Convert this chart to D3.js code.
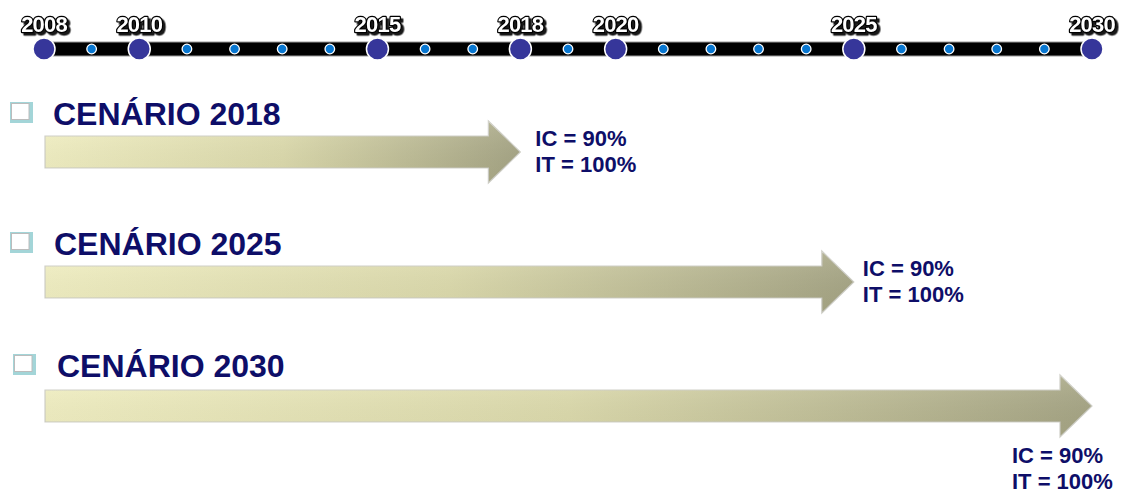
<!DOCTYPE html>
<html>
<head>
<meta charset="utf-8">
<script src="https://cdn.jsdelivr.net/npm/d3@7"></script>
<style>
  html, body { margin: 0; padding: 0; background: #ffffff; }
  svg { display: block; }
</style>
</head>
<body>
<svg id="chart" width="1123" height="494"></svg>
<script>
// Timeline years: labelled milestones and the yearly markers between them
const majorYears = [2008, 2010, 2015, 2018, 2020, 2025, 2030];
const minorYears = [2009, 2011, 2012, 2013, 2014, 2016, 2017, 2019,
                    2021, 2022, 2023, 2024, 2026, 2027, 2028, 2029];

// Scenarios: horizon year and targets
const scenarioNames = ["CENÁRIO 2018", "CENÁRIO 2025", "CENÁRIO 2030"];
const scenarioYears = [2018, 2025, 2030];
const icValues = [90, 90, 90];
const itValues = [100, 100, 100];

const W = 1123, H = 494;
const svg = d3.select("#chart");
const navy = "#0e0e68";
const font = "Liberation Sans, Arial, sans-serif";

const x = d3.scaleLinear().domain([2008, 2030]).range([44, 1092]);

const defs = svg.append("defs");
const grad = defs.append("linearGradient")
  .attr("id", "arrowFill").attr("x1", "0").attr("y1", "0").attr("x2", "1").attr("y2", "0");
grad.append("stop").attr("offset", "0").attr("stop-color", "#f4f2c4");
grad.append("stop").attr("offset", "0.5").attr("stop-color", "#dfddae");
grad.append("stop").attr("offset", "1").attr("stop-color", "#a7a685");

const shadeV = defs.append("linearGradient")
  .attr("id", "arrowShade").attr("x1", "0").attr("y1", "0").attr("x2", "0").attr("y2", "1");
shadeV.append("stop").attr("offset", "0").attr("stop-color", "#ffffff").attr("stop-opacity", 0.12);
shadeV.append("stop").attr("offset", "1").attr("stop-color", "#000000").attr("stop-opacity", 0.04);

const shadow = defs.append("filter").attr("id", "yearShadow")
  .attr("x", "-20%").attr("y", "-30%").attr("width", "150%").attr("height", "170%");
shadow.append("feDropShadow")
  .attr("dx", 2.5).attr("dy", 2.5).attr("stdDeviation", 0.7)
  .attr("flood-color", "#000").attr("flood-opacity", 0.9);

// ---- Timeline ----
const tlY = 49;
const tl = svg.append("g");
tl.append("rect")
  .attr("x", x(2008)).attr("y", tlY - 7)
  .attr("width", x(2030) - x(2008)).attr("height", 14)
  .attr("fill", "#000").attr("stroke", "#9a9a9a").attr("stroke-width", 1);

tl.selectAll("circle.minor").data(minorYears).join("circle")
  .attr("class", "minor")
  .attr("cx", d => x(d)).attr("cy", tlY).attr("r", 4.8)
  .attr("fill", "#0877d1").attr("stroke", "#ffffff").attr("stroke-width", 1.3);

tl.selectAll("circle.major").data(majorYears).join("circle")
  .attr("class", "major")
  .attr("cx", d => x(d)).attr("cy", tlY).attr("r", 11)
  .attr("fill", "#36369a").attr("stroke", "#ffffff").attr("stroke-width", 1.5);

// Year labels: white with a dark outline and drop shadow
tl.selectAll("text.yl").data(majorYears).join("text").attr("class", "yl")
  .attr("x", d => x(d)).attr("y", 32)
  .attr("text-anchor", "middle")
  .attr("font-family", font)
  .attr("font-weight", "bold").attr("font-size", 22).attr("letter-spacing", -0.8)
  .attr("fill", "#ffffff").attr("stroke", "#000").attr("stroke-width", 2.4)
  .attr("stroke-linejoin", "round").attr("paint-order", "stroke")
  .attr("filter", "url(#yearShadow)")
  .text(d => d);

// ---- Scenario rows ----
const rowTitleY = [125, 255, 377];   // heading baselines
const rowArrowY = [152, 282, 406];   // arrow centre lines
const rowBoxX = [10, 10, 13];
const rowTitleX = [53, 54, 57];
const shaftHalf = 16, headHalf = 31, headLen = 32;

const rows = svg.selectAll("g.row")
  .data(scenarioNames.map((name, i) => ({
    name, year: scenarioYears[i], ic: icValues[i], it: itValues[i], i
  })))
  .join("g").attr("class", "row");

// checkbox bullet
rows.append("rect")
  .attr("x", d => rowBoxX[d.i]).attr("y", d => rowTitleY[d.i] - 23)
  .attr("width", 23).attr("height", 21)
  .attr("fill", "#a3d5d8");
rows.append("rect")
  .attr("x", d => rowBoxX[d.i] + 1.5).attr("y", d => rowTitleY[d.i] - 21.5)
  .attr("width", 17.5).attr("height", 16)
  .attr("fill", "#ffffff").attr("stroke", "#bcbcbc").attr("stroke-width", 1);

rows.append("text")
  .attr("x", d => rowTitleX[d.i]).attr("y", d => rowTitleY[d.i])
  .attr("font-family", font)
  .attr("font-weight", "bold").attr("font-size", 32)
  .attr("fill", navy)
  .text(d => d.name);

// block arrows from the start of the timeline to the scenario year
function arrowPath(x0, x1, cy) {
  const xh = x1 - headLen;
  return `M${x0},${cy - shaftHalf}L${xh},${cy - shaftHalf}L${xh},${cy - headHalf}` +
         `L${x1},${cy}L${xh},${cy + headHalf}L${xh},${cy + shaftHalf}` +
         `L${x0},${cy + shaftHalf}Z`;
}
rows.append("path")
  .attr("d", d => arrowPath(x(2008) + 1, x(d.year), rowArrowY[d.i]))
  .attr("fill", "url(#arrowFill)")
  .attr("stroke", "#d0d0c8").attr("stroke-width", 1.2).attr("stroke-linejoin", "miter");
rows.append("path")
  .attr("d", d => arrowPath(x(2008) + 1, x(d.year), rowArrowY[d.i]))
  .attr("fill", "url(#arrowShade)");

// target labels: beside the arrow tip, or below it when there is no room
const lbl = rows.append("text")
  .attr("font-family", font)
  .attr("font-weight", "bold").attr("font-size", 22)
  .attr("fill", navy)
  .attr("transform", d => {
    const tip = x(d.year);
    const fits = tip + 110 < W;
    const lx = fits ? tip + (d.i === 0 ? 15 : 9) : tip - 80;
    const ly = fits ? rowArrowY[d.i] - 6 : rowArrowY[d.i] + 57;
    return `translate(${lx},${ly})`;
  });
lbl.append("tspan").attr("x", 0).attr("y", 0).text(d => `IC = ${d.ic}%`);
lbl.append("tspan").attr("x", 0).attr("y", 26).text(d => `IT = ${d.it}%`);
</script>
</body>
</html>
